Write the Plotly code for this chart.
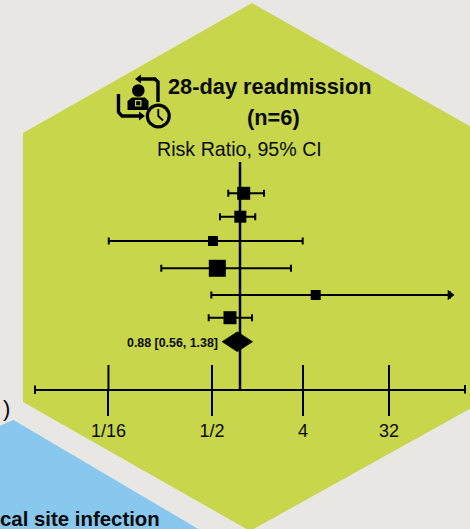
import math
import plotly.graph_objects as go

# ---- data (risk ratios on the chart's axis) ----
studies = ["Study 1", "Study 2", "Study 3", "Study 4", "Study 5", "Study 6"]
rr_est = [1.085, 1.007, 0.551, 0.606, 5.32, 0.802]
rr_low = [0.772, 0.643, 0.0552, 0.176, 0.531, 0.501]
rr_high = [1.70, 1.40, 3.99, 3.08, 103.0, 1.303]
weights = [13, 12, 10, 17, 10, 13]
pooled_label = "0.88 [0.56, 1.38]"
pooled_est = 0.942
pooled_low = 0.672
pooled_high = 1.323
tick_values = [0.0548, 0.539, 4.02, 26.8]
tick_labels = ["1/16", "1/2", "4", "32"]

# ---- layout constants (pixels of the 470x529 page) ----
W, H = 470, 529
ROW_Y = [193.3, 216.7, 241, 268.3, 295, 317.7]
POOL_Y = 341.7
AXIS_Y = 389.5
AX_L, AX_R = 35, 465
PX_PER_OCT, PX_ONE = 31.4, 240
GREEN, BLUE, BG = "#C7D64B", "#88C7EE", "#E8E7E3"


def px(x):
    return x / W


def py(y):
    return 1 - y / H


def path(pts, close=True):
    s = "M " + " L ".join(f"{px(x):.5f},{py(y):.5f}" for x, y in pts)
    return s + (" Z" if close else "")


def poly(pts, color):
    return dict(type="path", xref="paper", yref="paper", path=path(pts), fillcolor=color,
                line=dict(width=0), layer="below")


def stroke(pts, width=3.4, color="black"):
    return dict(type="path", xref="paper", yref="paper", path=path(pts, False),
                line=dict(color=color, width=width), layer="below")


def circle(cx, cy, r, color):
    return dict(type="circle", xref="paper", yref="paper", x0=px(cx - r), x1=px(cx + r),
                y0=py(cy + r), y1=py(cy - r), fillcolor=color, line=dict(width=0), layer="below")


shapes = [
    poly([(252, 3), (482, 133), (482, 402), (250, 531), (23, 402), (23, 133)], GREEN),
    poly([(13.5, 420), (200, 530), (-10, 530), (-10, 430)], BLUE),
    # icon: arrows
    stroke([(158, 102), (158, 82), (155, 79), (140, 79)]),
    poly([(135, 79), (141, 74.5), (141, 83.5)], "black"),
    stroke([(118.5, 94), (118.5, 112), (122, 116), (140, 116)]),
    poly([(145, 116), (139, 111.5), (139, 120.5)], "black"),
    # icon: person
    circle(138.3, 90.5, 6.3, "black"),
    poly([(127.5, 110), (127.5, 101), (132, 97.5), (145, 97.5), (148.5, 101), (148.5, 110)], "black"),
    poly([(135, 100), (141.5, 100), (141.5, 106.5), (135, 106.5)], GREEN),
    poly([(136.2, 101.2), (140.3, 101.2), (140.3, 105.3), (136.2, 105.3)], "black"),
    # icon: clock
    circle(158.3, 116, 12.5, "black"),
    circle(158.3, 116, 9.3, GREEN),
    stroke([(158.3, 109), (158.3, 116), (163, 120.5)], 1.8),
    # axis end caps
    stroke([(AX_L, 385.5), (AX_L, 394)], 2),
    stroke([(AX_R, 385), (AX_R, 393.5)], 2),
]

fig = go.Figure()

# reference line at RR = 1
fig.add_trace(go.Scatter(x=[1, 1], y=[162, AXIS_Y], mode="lines",
                         line=dict(color="black", width=2.5), hoverinfo="skip"))

# upper halves of the axis ticks
stub_x, stub_y = [], []
for v in tick_values:
    stub_x += [v, v, None]
    stub_y += [365, AXIS_Y, None]
fig.add_trace(go.Scatter(x=stub_x, y=stub_y, mode="lines",
                         line=dict(color="black", width=2), hoverinfo="skip"))

# studies
fig.add_trace(go.Scatter(
    x=rr_est, y=ROW_Y, mode="markers", text=studies,
    marker=dict(symbol="square", size=weights, color="black", opacity=1, line=dict(width=0)),
    error_x=dict(type="data", symmetric=False,
                 array=[h - e for h, e in zip(rr_high, rr_est)],
                 arrayminus=[e - l for e, l in zip(rr_est, rr_low)],
                 color="black", thickness=2, width=3.5),
))

# open-ended upper limit of study 5
fig.add_trace(go.Scatter(x=[rr_high[4]], y=[ROW_Y[4]], mode="markers",
                         marker=dict(symbol="triangle-right", size=9, color="black", line=dict(width=0)),
                         hoverinfo="skip"))

# pooled diamond
fig.add_trace(go.Scatter(
    x=[pooled_low, pooled_est, pooled_high, pooled_est, pooled_low],
    y=[POOL_Y, POOL_Y - 10, POOL_Y, POOL_Y + 10, POOL_Y],
    mode="lines", fill="toself", fillcolor="black", line=dict(color="black", width=0.5),
    hoverinfo="skip"))

LOG2 = math.log10(2)
annots = [
    dict(x=px(270), y=py(86.5), text="<b>28-day readmission</b>", font=dict(size=21.8)),
    dict(x=px(273), y=py(117), text="<b>(n=6)</b>", font=dict(size=21.8)),
    dict(x=px(240), y=py(148.5), text="Risk Ratio, 95% CI", font=dict(size=16.3 * 164 / 136)),
    dict(x=px(219.5), y=py(342.5), text="<b>" + pooled_label + "</b>", font=dict(size=12.4), xanchor="right"),
    dict(x=px(11.5), y=py(408.5), text=")", font=dict(size=22)),
    dict(x=px(162), y=py(519), text="<b>cal site infection</b>", font=dict(size=20.4), xanchor="right"),
]
for a in annots:
    a.update(xref="paper", yref="paper", showarrow=False)
    a.setdefault("xanchor", "center")
    a["yanchor"] = "middle"
    a["font"].setdefault("color", "#0A0A0A")
    a["font"]["family"] = "Liberation Sans"
annots[4]["xanchor"] = "right"

fig.update_layout(
    width=W, height=H, margin=dict(l=0, r=0, t=0, b=0),
    paper_bgcolor=BG, plot_bgcolor="rgba(0,0,0,0)", showlegend=False,
    shapes=shapes, annotations=annots,
    font=dict(family="Liberation Sans", color="#0A0A0A"),
    xaxis=dict(
        type="log", domain=[px(AX_L), px(AX_R)],
        range=[LOG2 * (AX_L - PX_ONE) / PX_PER_OCT, LOG2 * (AX_R - PX_ONE) / PX_PER_OCT],
        anchor="free", position=py(AXIS_Y),
        tickmode="array", tickvals=tick_values, ticktext=tick_labels,
        ticks="outside", ticklen=25, tickwidth=2, tickcolor="black",
        showline=True, linecolor="black", linewidth=2, showgrid=False, zeroline=False,
        tickfont=dict(size=18, color="#0A0A0A"),
    ),
    yaxis=dict(range=[H, 0], domain=[0, 1], visible=False, showgrid=False, zeroline=False),
)

fig.write_html("out.html", config=dict(displayModeBar=False),
               post_script="document.body.style.margin='0';document.body.style.overflow='hidden';")
